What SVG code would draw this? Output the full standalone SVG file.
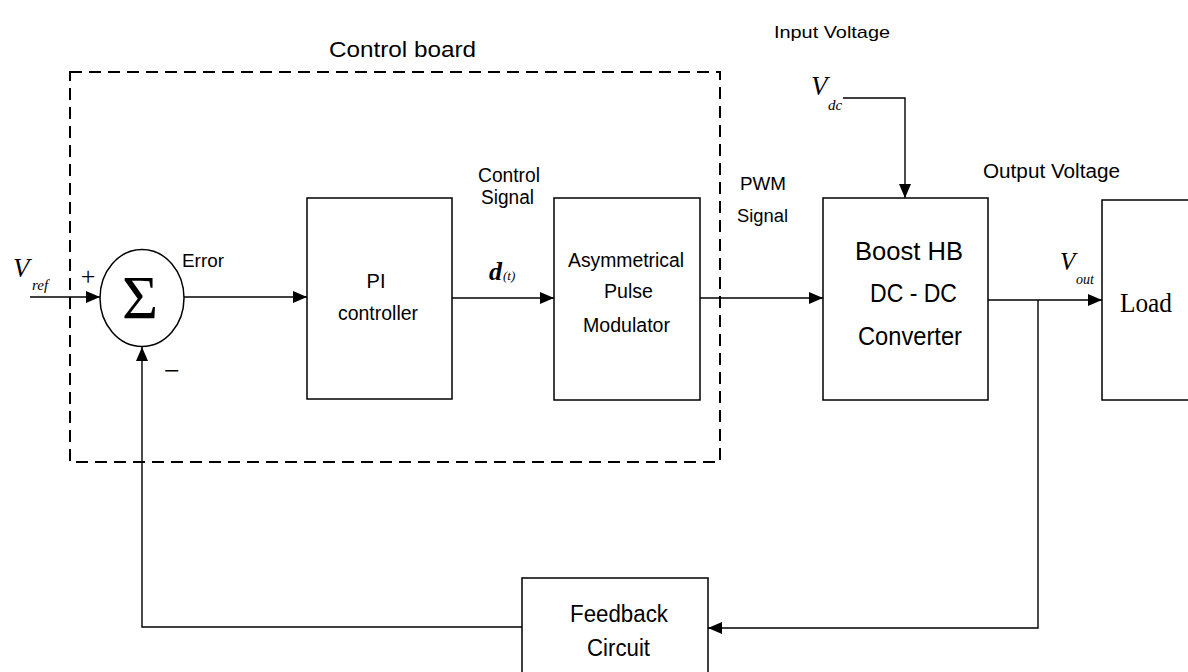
<svg xmlns="http://www.w3.org/2000/svg" width="1188" height="672" viewBox="0 0 1188 672">
<defs>
<marker id="ah" markerUnits="userSpaceOnUse" markerWidth="15" markerHeight="12" refX="14" refY="6" orient="auto">
<path d="M0,0 L14,6 L0,12 z" fill="#000"/>
</marker>
<style>
.box{fill:#fff;stroke:#000;stroke-width:1.5}
.ln{fill:none;stroke:#000;stroke-width:1.4;marker-end:url(#ah)}
.t{font-family:"Liberation Sans",Arial,sans-serif;fill:#000}
.m{font-family:"Liberation Serif","Times New Roman",serif;font-style:italic;fill:#000}
</style>
</defs>
<rect width="1188" height="672" fill="#fff"/>

<g id="control-board">
<rect x="70" y="72" width="650" height="390" fill="none" stroke="#000" stroke-width="2" stroke-dasharray="12 7"/>
<text class="t" x="329" y="57" font-size="22" textLength="147" lengthAdjust="spacingAndGlyphs">Control board</text>
</g>

<g id="connectors">
<path class="ln" d="M30 297 H100"/>
<path class="ln" d="M184 297 H307"/>
<path class="ln" d="M452 298 H554"/>
<path class="ln" d="M700 298 H823"/>
<path class="ln" d="M843 98 H905 V198"/>
<path class="ln" d="M988 300 H1102"/>
<path class="ln" d="M1038 300 V628 H708"/>
<path class="ln" d="M522 627 H142 V347"/>
</g>

<g id="sum">
<ellipse cx="142" cy="298" rx="42" ry="48.5" fill="#fff" stroke="#000" stroke-width="1.5"/>
<text x="140" y="318" font-family="'Liberation Serif','Times New Roman',serif" font-size="62" text-anchor="middle">Σ</text>
<text x="88" y="285" font-family="'Liberation Serif',serif" font-size="26" text-anchor="middle">+</text>
<text x="172" y="380" font-family="'Liberation Serif',serif" font-size="28" text-anchor="middle">−</text>
</g>

<g id="vref">
<text class="m" x="13" y="277" font-size="27">V</text>
<text class="m" x="32" y="290" font-size="15">ref</text>
</g>

<g id="error-label">
<text class="t" x="182" y="267" font-size="18" textLength="42" lengthAdjust="spacingAndGlyphs">Error</text>
</g>

<g id="pi">
<rect class="box" x="307" y="198" width="145" height="201"/>
<text class="t" x="376" y="288" font-size="20" text-anchor="middle">PI</text>
<text class="t" x="338" y="320" font-size="20" textLength="80" lengthAdjust="spacingAndGlyphs">controller</text>
</g>

<g id="control-signal">
<text class="t" x="478" y="182" font-size="20" textLength="62" lengthAdjust="spacingAndGlyphs">Control</text>
<text class="t" x="481" y="204" font-size="20" textLength="53" lengthAdjust="spacingAndGlyphs">Signal</text>
<text x="489" y="280" font-family="'Liberation Serif',serif" font-style="italic" font-weight="bold" font-size="26">d</text>
<text x="503" y="280" font-family="'Liberation Serif',serif" font-style="italic" font-size="13">(t)</text>
</g>

<g id="apm">
<rect class="box" x="554" y="198" width="146" height="202"/>
<text class="t" x="568" y="267" font-size="20" textLength="116" lengthAdjust="spacingAndGlyphs">Asymmetrical</text>
<text class="t" x="604" y="298" font-size="20" textLength="49" lengthAdjust="spacingAndGlyphs">Pulse</text>
<text class="t" x="583" y="332" font-size="20" textLength="87" lengthAdjust="spacingAndGlyphs">Modulator</text>
</g>

<g id="pwm-label">
<text class="t" x="740" y="190" font-size="18" textLength="46" lengthAdjust="spacingAndGlyphs">PWM</text>
<text class="t" x="737" y="222" font-size="18" textLength="51" lengthAdjust="spacingAndGlyphs">Signal</text>
</g>

<g id="input-voltage">
<text class="t" x="774" y="38" font-size="17" textLength="116" lengthAdjust="spacingAndGlyphs">Input  Voltage</text>
<text class="m" x="811" y="95" font-size="27">V</text>
<text class="m" x="828" y="110" font-size="15">dc</text>
</g>

<g id="boost">
<rect class="box" x="823" y="198" width="165" height="202"/>
<text class="t" x="855" y="260" font-size="25" textLength="108" lengthAdjust="spacingAndGlyphs">Boost  HB</text>
<text class="t" x="870" y="302" font-size="25" textLength="87" lengthAdjust="spacingAndGlyphs">DC - DC</text>
<text class="t" x="858" y="345" font-size="25" textLength="104" lengthAdjust="spacingAndGlyphs">Converter</text>
</g>

<g id="output-voltage">
<text class="t" x="983" y="178" font-size="20" textLength="137" lengthAdjust="spacingAndGlyphs">Output Voltage</text>
<text class="m" x="1060" y="270" font-size="25">V</text>
<text class="m" x="1076" y="284" font-size="14">out</text>
</g>

<g id="load">
<rect class="box" x="1102" y="200" width="100" height="200"/>
<text x="1120" y="312" font-family="'Liberation Serif','Times New Roman',serif" font-size="27" textLength="52" lengthAdjust="spacingAndGlyphs">Load</text>
</g>

<g id="feedback">
<rect class="box" x="522" y="578" width="186" height="110"/>
<text class="t" x="570" y="622" font-size="23" textLength="98" lengthAdjust="spacingAndGlyphs">Feedback</text>
<text class="t" x="587" y="656" font-size="23" textLength="63" lengthAdjust="spacingAndGlyphs">Circuit</text>
</g>
</svg>
